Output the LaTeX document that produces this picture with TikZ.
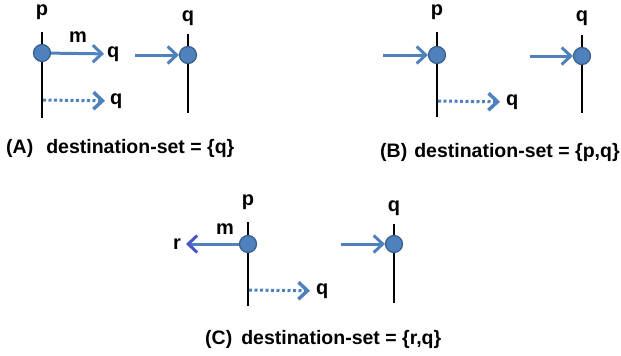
\documentclass[tikz,border=0pt]{standalone}
\usepackage{fontspec}
\setmainfont{Liberation Sans}
\usetikzlibrary{arrows.meta}
\definecolor{ablue}{HTML}{4F81BD}
\definecolor{dblue}{HTML}{385D8A}
\definecolor{vblue}{HTML}{4B55C8}
\tikzset{
  lbl/.style={font=\fontsize{20}{22}\selectfont\bfseries, inner sep=0pt},
  captext/.style={font=\fontsize{19.5}{22}\selectfont\bfseries, inner sep=0pt, anchor=base west},
  tl/.style={line width=2pt, black},
  evt/.style={circle, minimum size=17pt, inner sep=0pt, fill=ablue, draw=dblue, line width=1.2pt},
  msg/.style={line width=3pt, ablue, -{Straight Barb[length=9pt,width=17pt,line width=3pt]}},
  dmsg/.style={line width=3pt, ablue, dash pattern=on 3pt off 2.5pt, -{Straight Barb[length=9pt,width=17pt,line width=3.5pt]}},
}
\begin{document}
\begin{tikzpicture}[x=1pt,y=-1pt]
\useasboundingbox (0,0) rectangle (621,356);
% ---------- Panel A ----------
\node[lbl] (pA) at (42,12) {p};
\coordinate (pAt) at (42,32); \coordinate (pAb) at (42,118);
\draw[tl] (pAt) -- (pAb);
\node[evt] (eA) at (42,53) {};
\node[lbl, anchor=west] (qA1) at (107,54) {q};
\draw[msg, shorten >=3pt] (eA) -- (qA1);
\node[lbl] (mA) at (78,37) {m};
\coordinate (dA) at (43,100);
\node[lbl, anchor=west] (qA2) at (110,101) {q};
\draw[dmsg, shorten >=5pt] (dA) -- (qA2);
\node[lbl] (qA) at (188,18) {q};
\coordinate (qAt) at (188,34); \coordinate (qAb) at (188,113);
\draw[tl] (qAt) -- (qAb);
\node[evt] (fA) at (188,55) {};
\coordinate (sA) at (135,55);
\draw[msg] (sA) -- (fA);
\node[captext] (capA) at (6,153) {(A)\hspace{13pt}destination-set = \{q\}};
% ---------- Panel B ----------
\node[lbl] (pB) at (437,12) {p};
\coordinate (pBt) at (437,32); \coordinate (pBb) at (437,117);
\draw[tl] (pBt) -- (pBb);
\node[evt] (eB) at (437,55) {};
\coordinate (sB1) at (383,55);
\draw[msg] (sB1) -- (eB);
\coordinate (dB) at (438,101);
\node[lbl, anchor=west] (qB1) at (506,102) {q};
\draw[dmsg, shorten >=6pt] (dB) -- (qB1);
\node[lbl] (qB) at (582,18) {q};
\coordinate (qBt) at (582,35); \coordinate (qBb) at (582,113);
\draw[tl] (qBt) -- (qBb);
\node[evt] (fB) at (582,56) {};
\coordinate (sB2) at (530,56);
\draw[msg] (sB2) -- (fB);
\node[captext] (capB) at (380,157) {(B)\hspace{7pt}destination-set = \{p,q\}};
% ---------- Panel C ----------
\node[lbl] (pC) at (248,202) {p};
\coordinate (pCt) at (248,222); \coordinate (pCb) at (248,306);
\draw[tl] (pCt) -- (pCb);
\node[evt] (eC) at (248,244) {};
\node[lbl, anchor=east] (rC) at (181,244) {r};
\draw[line width=3pt, ablue, shorten >=5pt, -{Straight Barb[length=9pt,width=17pt,line width=3pt,color=vblue]}] (eC) -- (rC);
\node[lbl] (mC) at (225,229) {m};
\coordinate (dC) at (249,290);
\node[lbl, anchor=west] (qC1) at (316,291) {q};
\draw[dmsg, shorten >=6pt] (dC) -- (qC1);
\node[lbl] (qC) at (394,208) {q};
\coordinate (qCt) at (394,224); \coordinate (qCb) at (394,303);
\draw[tl] (qCt) -- (qCb);
\node[evt] (fC) at (394,244) {};
\coordinate (sC) at (341,244);
\draw[msg] (sC) -- (fC);
\node[captext] (capC) at (205,344) {(C)\hspace{9pt}destination-set = \{r,q\}};
\end{tikzpicture}
\end{document}
